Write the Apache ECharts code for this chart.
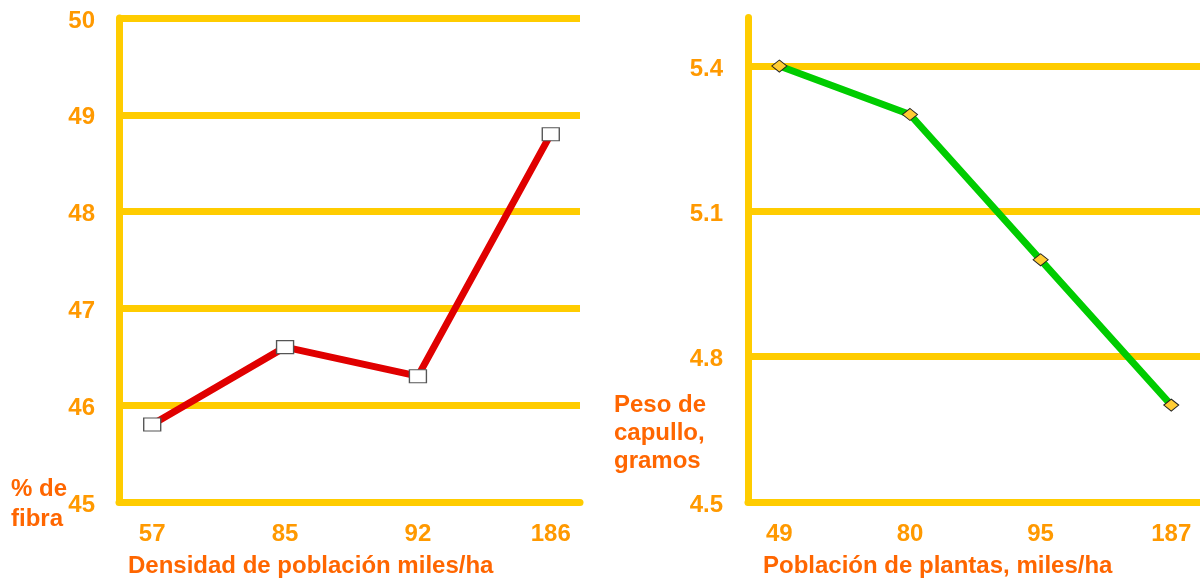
<!DOCTYPE html>
<html>
<head>
<meta charset="utf-8">
<script src="https://cdn.jsdelivr.net/npm/echarts@6/dist/echarts.min.js"></script>
<style>
  html, body { margin: 0; padding: 0; background: #fff; }
  #main { width: 1200px; height: 584px; }
</style>
</head>
<body>
<div id="main"></div>
<script>
// datos
var densidad = ['57', '85', '92', '186'];
var fibra = [45.8, 46.6, 46.3, 48.8];
var fibraTicks = [45, 46, 47, 48, 49, 50];

var poblacion = ['49', '80', '95', '187'];
var peso = [5.4, 5.3, 5.0, 4.7];
var pesoTicks = [4.5, 4.8, 5.1, 5.4];

var amarillo = '#FFCC00';
var naranja = '#FF9900';
var rotulo = '#FF6600';
var fuente = '"Liberation Sans", Arial, sans-serif';

var myChart = echarts.init(document.getElementById('main'));

function ejeX(idx, cats, min, max) {
  return {
    type: 'value',
    gridIndex: idx,
    min: min,
    max: max,
    axisLine: { show: true, onZero: false, lineStyle: { color: amarillo, width: 7 } },
    axisTick: { show: false, customValues: [0, 1, 2, 3] },
    splitLine: { show: false },
    axisLabel: {
      customValues: [0, 1, 2, 3],
      formatter: function (v) { return cats[v]; },
      color: naranja, fontSize: 24, fontWeight: 'bold', fontFamily: fuente,
      margin: 20
    }
  };
}

var option = {
  animation: false,
  grid: [
    { left: 119, right: 620, top: 18, bottom: 82 },
    { left: 748, right: 0, top: 17.6, bottom: 82 }
  ],
  xAxis: [
    ejeX(0, densidad, -0.25, 3.22),
    ejeX(1, poblacion, -0.24, 3.22)
  ],
  yAxis: [
    {
      type: 'value', gridIndex: 0, min: 45, max: 50,
      axisLine: { show: true, onZero: false, lineStyle: { color: amarillo, width: 7 } },
      axisTick: { show: false, customValues: fibraTicks },
      splitLine: { lineStyle: { color: amarillo, width: 7 } },
      axisLabel: {
        customValues: fibraTicks,
        color: naranja, fontSize: 24, fontWeight: 'bold', fontFamily: fuente,
        margin: 24, verticalAlign: 'top', lineHeight: 6
      }
    },
    {
      type: 'value', gridIndex: 1, min: 4.5, max: 5.5,
      axisLine: { show: true, onZero: false, lineStyle: { color: amarillo, width: 7 } },
      axisTick: { show: false, customValues: pesoTicks },
      splitLine: { lineStyle: { color: amarillo, width: 7 } },
      axisLabel: {
        customValues: pesoTicks,
        formatter: function (v) { return v.toFixed(1); },
        color: naranja, fontSize: 24, fontWeight: 'bold', fontFamily: fuente,
        margin: 25, verticalAlign: 'top', lineHeight: 6
      }
    }
  ],
  series: [
    {
      type: 'line', xAxisIndex: 0, yAxisIndex: 0,
      data: fibra.map(function (v, i) { return [i, v]; }),
      lineStyle: { color: '#E00000', width: 7 },
      symbol: 'rect', symbolSize: [17, 13],
      itemStyle: { color: '#ffffff', borderColor: '#555555', borderWidth: 1.2 },
      z: 5
    },
    {
      type: 'line', xAxisIndex: 1, yAxisIndex: 1,
      data: peso.map(function (v, i) { return [i, v]; }),
      lineStyle: { color: '#00CC00', width: 7 },
      symbol: 'diamond', symbolSize: [15, 12],
      itemStyle: { color: '#FFCC33', borderColor: '#222222', borderWidth: 1 },
      z: 5
    }
  ],
  graphic: [
    {
      type: 'text', left: 128, top: 554,
      style: { text: 'Densidad de población miles/ha', fill: rotulo,
        font: 'bold 24px ' + fuente }
    },
    {
      type: 'text', left: 763, top: 554,
      style: { text: 'Población de plantas, miles/ha', fill: rotulo,
        font: 'bold 24px ' + fuente }
    },
    {
      type: 'text', left: 11, top: 474,
      style: { text: '% de\nfibra', fill: rotulo, lineHeight: 30,
        font: 'bold 24px ' + fuente }
    },
    {
      type: 'text', left: 614, top: 391,
      style: { text: 'Peso de\ncapullo,\ngramos', fill: rotulo, lineHeight: 28,
        font: 'bold 24px ' + fuente }
    }
  ]
};

myChart.setOption(option);
</script>
</body>
</html>
